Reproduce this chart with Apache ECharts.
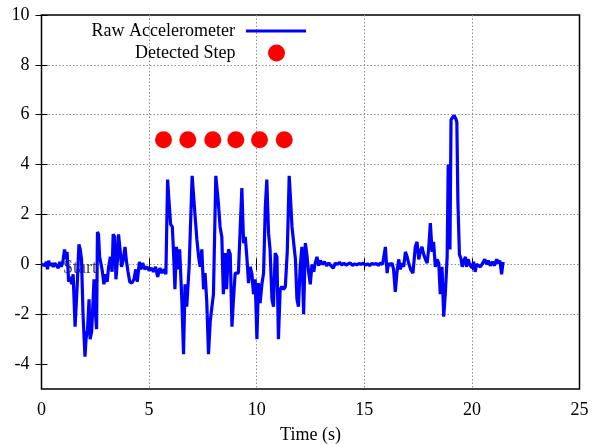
<!DOCTYPE html>
<html>
<head>
<meta charset="utf-8">
<script src="https://cdn.jsdelivr.net/npm/echarts@6/dist/echarts.min.js"></script>
<style>
html, body { margin: 0; padding: 0; background: #fff; }
#main { width: 602px; height: 444px; }
</style>
</head>
<body>
<div id="main"></div>
<script>
// raw accelerometer trace
const timeSec = [
  0.00, 0.08, 0.15, 0.22, 0.28, 0.33, 0.40, 0.48, 0.55, 0.62, 0.70, 0.78, 0.85, 0.92, 1.00,
  1.07, 1.14, 1.19, 1.26, 1.33, 1.40, 1.47, 1.56, 1.65, 1.74, 1.80, 1.86, 1.93, 2.02, 2.07,
  2.14, 2.21, 2.26, 2.33, 2.40, 2.44, 2.51, 2.56, 2.60, 2.65, 2.70, 2.77, 2.83, 2.90, 2.97,
  3.05, 3.12, 3.20, 3.28, 3.33, 3.40, 3.46, 3.53, 3.58, 3.65, 3.72, 3.80, 3.88, 3.95, 4.02,
  4.10, 4.20, 4.30, 4.38, 4.45, 4.55, 4.62, 4.70, 4.80, 4.90, 5.00, 5.10, 5.20, 5.30, 5.40,
  5.50, 5.60, 5.70, 5.78, 5.86, 5.92, 6.00, 6.08, 6.15, 6.20, 6.27, 6.35, 6.42, 6.52, 6.60,
  6.67, 6.75, 6.86, 7.00, 7.14, 7.22, 7.30, 7.37, 7.45, 7.53, 7.60, 7.68, 7.76, 7.84, 7.92,
  7.99, 8.10, 8.22, 8.30, 8.38, 8.45, 8.53, 8.60, 8.69, 8.77, 8.85, 8.92, 9.00, 9.15, 9.31,
  9.39, 9.47, 9.55, 9.62, 9.70, 9.78, 9.85, 9.93, 10.01, 10.08, 10.16, 10.24, 10.32, 10.40, 10.47,
  10.55, 10.62, 10.71, 10.78, 10.86, 10.94, 11.01, 11.09, 11.17, 11.25, 11.33, 11.42, 11.51, 11.58, 11.64,
  11.71, 11.80, 11.87, 11.94, 12.02, 12.10, 12.18, 12.26, 12.33, 12.41, 12.49, 12.57, 12.65, 12.72, 12.80,
  12.88, 12.96, 13.05, 13.15, 13.25, 13.35, 13.45, 13.56, 13.65, 13.75, 13.85, 13.95, 14.05, 14.15, 14.25,
  14.35, 14.45, 14.55, 14.65, 14.75, 14.85, 14.95, 15.05, 15.15, 15.25, 15.35, 15.45, 15.55, 15.65, 15.74,
  15.85, 15.98, 16.06, 16.12, 16.20, 16.29, 16.36, 16.44, 16.52, 16.60, 16.67, 16.75, 16.83, 16.91, 16.99,
  17.06, 17.15, 17.26, 17.37, 17.45, 17.53, 17.60, 17.68, 17.76, 17.84, 17.92, 17.99, 18.07, 18.15, 18.22,
  18.30, 18.38, 18.46, 18.53, 18.61, 18.69, 18.77, 18.85, 18.90, 18.95, 18.98, 19.03, 19.10, 19.17, 19.25,
  19.30, 19.35, 19.42, 19.50, 19.55, 19.62, 19.70, 19.75, 19.82, 19.90, 20.00, 20.08, 20.15, 20.22, 20.30,
  20.40, 20.50, 20.60, 20.68, 20.76, 20.85, 20.95, 21.05, 21.15, 21.22, 21.30, 21.38, 21.45
]
const accel = [
  0.00, 0.05, -0.05, 0.10, -0.20, 0.15, -0.05, 0.05, -0.10, 0.05, 0.00, -0.15, 0.10, -0.10, 0.15,
  0.60, 0.20, 0.50, -0.70, -0.50, -0.80, -0.40, -2.50, -1.00, 0.80, 0.60, 0.20, -2.00, -3.70, -3.00,
  -2.60, -1.40, -3.00, -2.70, -1.40, -0.60, -2.00, -2.60, 1.30, 1.20, 0.30, 0.00, -0.30, -0.80, -0.40,
  -0.70, -0.10, 0.30, -0.30, 1.20, 1.10, -0.60, 0.20, 1.20, 0.60, -0.10, 0.20, 0.70, 0.10, -0.30,
  -0.70, -0.75, -0.60, -0.20, -0.70, 0.10, -0.20, 0.05, -0.20, -0.10, -0.25, -0.15, -0.30, -0.10, -0.50,
  -0.15, -0.35, -0.20, -0.40, 3.40, 2.60, 1.60, 1.50, 0.20, -1.00, 0.70, -0.20, 0.60, -1.40, -3.60,
  -0.80, -1.70, -0.10, 3.55, 1.90, 1.00, 0.30, -0.10, 0.60, -1.00, -0.35, -1.50, -3.60, -2.30, -1.70,
  -1.20, 3.55, 2.45, 1.50, 1.10, -1.20, 0.45, -1.00, 0.60, 0.40, -2.50, -1.40, -0.35, -0.35, 3.06,
  0.85, 1.10, 0.20, -0.75, -0.10, -0.40, -1.20, -0.60, -3.00, -0.75, -1.55, -0.80, -0.35, 2.30, 3.40,
  1.25, 0.60, -1.40, -1.70, 0.45, 0.30, -3.00, -1.00, -0.90, -1.00, -0.90, 0.50, 3.55, 2.50, 1.50,
  1.50, 0.20, -1.40, -1.70, -0.10, 0.70, -2.00, 0.85, 0.40, -0.30, -0.80, 0.00, -0.30, 0.05, 0.30,
  -0.05, 0.15, 0.00, 0.10, -0.05, 0.05, -0.05, -0.15, 0.05, 0.00, 0.08, -0.02, 0.04, -0.03, 0.02,
  0.05, -0.04, 0.02, -0.02, 0.03, 0.00, 0.05, -0.03, 0.02, -0.05, 0.04, 0.00, 0.03, -0.04, 0.05,
  0.00, 0.70, -0.35, 0.05, -0.05, 0.05, -0.20, -1.10, -0.30, 0.20, -0.20, 0.05, -0.10, 0.50, 0.30,
  0.05, -0.20, -0.35, 0.70, 0.90, 0.20, 0.50, 0.70, 0.40, 0.20, 0.05, 0.60, 1.65, 0.50, 0.90,
  -0.10, 0.20, 0.05, -1.20, -0.10, -2.10, -1.10, 0.30, 4.00, 4.00, 0.60, 5.80, 5.75, 5.97, 5.85,
  5.70, 2.50, 0.40, 0.20, -0.10, 0.10, 0.30, -0.10, 0.20, 0.00, -0.15, 0.10, -0.30, 0.00, 0.05,
  -0.10, 0.05, 0.20, 0.00, 0.15, -0.05, 0.10, -0.05, 0.20, 0.05, 0.15, -0.40, 0.10
]
const stepTimes = [5.67, 6.80, 7.96, 9.03, 10.13, 11.28]
const stepLevel = [5, 5, 5, 5, 5, 5]
const xTicks = [0, 5, 10, 15, 20, 25]
const yTicks = [-4, -2, 0, 2, 4, 6, 8, 10]

const serif = "'Liberation Serif', 'Times New Roman', serif"
const chart = echarts.init(document.getElementById('main'))

const mirrorTick = {
  show: true,
  inside: true,
  length: 6,
  lineStyle: { color: '#000', width: 1 }
}
const gridLine = {
  show: true,
  showMinLine: false,
  showMaxLine: false,
  lineStyle: { color: '#8c8c8c', width: 1, type: [1.5, 2] }
}
const legendText = { fontSize: 18, color: '#000', fontFamily: serif, padding: [0, 6, 0, 0] }

chart.setOption({
  animation: false,
  textStyle: { fontFamily: serif },
  grid: {
    left: 41.5, right: 22.5, top: 15, bottom: 55,
    outerBoundsMode: 'none',
    show: true, borderColor: '#000', borderWidth: 1.5
  },
  legend: [
    {
      data: [{ name: 'Raw Accelerometer', icon: 'rect' }],
      right: 296, top: 22, padding: 0,
      align: 'right', itemWidth: 60, itemHeight: 3,
      textStyle: legendText
    },
    {
      data: ['Detected Step'],
      right: 317, top: 44, padding: 0,
      align: 'right', itemWidth: 60, itemHeight: 17,
      textStyle: legendText
    }
  ],
  xAxis: [
    {
      type: 'value', min: xTicks[0], max: xTicks[xTicks.length - 1], interval: 5,
      name: 'Time (s)', nameLocation: 'middle', nameGap: 37,
      nameTextStyle: { fontSize: 18, color: '#000', fontFamily: serif },
      axisLine: { show: false },
      axisTick: mirrorTick,
      axisLabel: { fontSize: 18, color: '#000', margin: 12, fontFamily: serif },
      splitLine: gridLine
    },
    {
      type: 'value', position: 'top', min: 0, max: 25, interval: 5,
      axisLine: { show: false }, axisTick: mirrorTick,
      axisLabel: { show: false }, splitLine: { show: false }
    }
  ],
  yAxis: [
    {
      type: 'value', min: -5, max: 10,
      axisLine: { show: false },
      axisTick: Object.assign({ customValues: yTicks }, mirrorTick),
      axisLabel: { customValues: yTicks, fontSize: 18, color: '#000', margin: 12, fontFamily: serif },
      splitLine: gridLine
    },
    {
      type: 'value', position: 'right', min: -5, max: 10,
      axisLine: { show: false },
      axisTick: Object.assign({ customValues: yTicks }, mirrorTick),
      axisLabel: { show: false }, splitLine: { show: false }
    }
  ],
  series: [
    {
      name: 'Start',
      type: 'scatter',
      z: 1,
      symbolSize: 0,
      data: [[1.0, -0.15]],
      label: {
        show: true, position: 'right', distance: 0,
        formatter: 'Start', fontSize: 18, color: '#111', fontFamily: serif
      },
      silent: true
    },
    {
      name: 'Raw Accelerometer',
      type: 'line',
      z: 3,
      symbol: 'none',
      lineStyle: { color: '#0000ff', width: 3.2 },
      itemStyle: { color: '#0000ff' },
      data: timeSec.map((t, i) => [t, accel[i]])
    },
    {
      name: 'Detected Step',
      type: 'scatter',
      z: 4,
      symbol: 'circle',
      symbolSize: 17,
      itemStyle: { color: '#ff0000', opacity: 1 },
      data: stepTimes.map((t, i) => [t, stepLevel[i]])
    }
  ]
})
</script>
</body>
</html>
